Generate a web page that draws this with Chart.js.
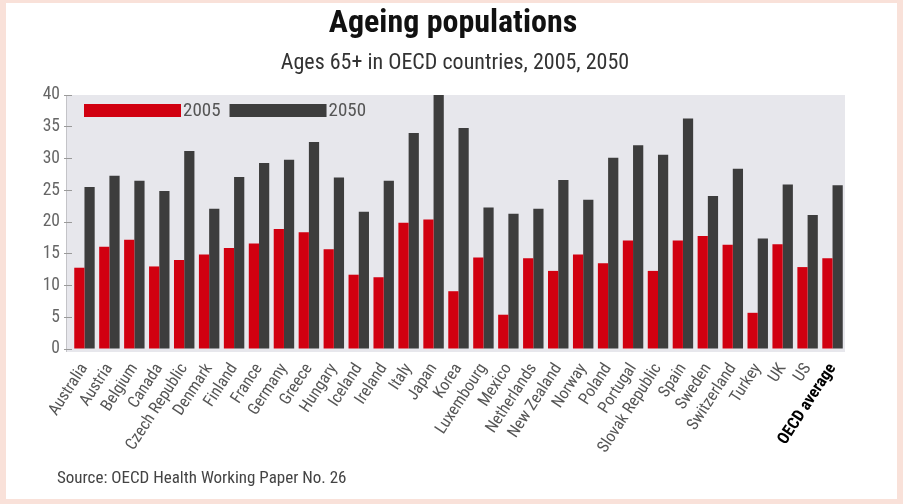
<!DOCTYPE html>
<html>
<head>
<meta charset="utf-8">
<script src="https://cdn.jsdelivr.net/npm/chart.js@4/dist/chart.umd.min.js"></script>
<style>
  html, body { margin: 0; padding: 0; background: #f9e1d9; }
  #c { display: block; }
</style>
</head>
<body>
<canvas id="c" width="903" height="504"></canvas>
<script>
// Share of population aged 65 and over, per cent
const countries = [
  'Australia', 'Austria', 'Belgium', 'Canada', 'Czech Republic', 'Denmark', 'Finland',
  'France', 'Germany', 'Greece', 'Hungary', 'Iceland', 'Ireland', 'Italy', 'Japan',
  'Korea', 'Luxembourg', 'Mexico', 'Netherlands', 'New Zealand', 'Norway', 'Poland',
  'Portugal', 'Slovak Republic', 'Spain', 'Sweden', 'Switzerland', 'Turkey', 'UK', 'US',
  'OECD average'
];
const share2005 = [
  12.8, 16.1, 17.2, 13.0, 14.0, 14.9, 15.9,
  16.6, 18.9, 18.4, 15.7, 11.7, 11.3, 19.9, 20.4,
  9.1, 14.4, 5.4, 14.3, 12.3, 14.9, 13.5,
  17.1, 12.3, 17.1, 17.8, 16.4, 5.7, 16.5, 12.9,
  14.3
];
const share2050 = [
  25.5, 27.3, 26.5, 24.9, 31.2, 22.1, 27.1,
  29.3, 29.8, 32.6, 27.0, 21.6, 26.5, 34.0, 40.0,
  34.8, 22.3, 21.3, 22.1, 26.6, 23.5, 30.1,
  32.1, 30.6, 36.3, 24.1, 28.4, 17.4, 25.9, 21.1,
  25.8
];
const seriesNames = ['2005', '2050'];
const yTicks = [0, 5, 10, 15, 20, 25, 30, 35, 40];

const NARROW = '"Roboto Condensed", "Open Sans", sans-serif';
const RED = '#d10010';
const DARK = '#3d3d3d';

// Page frame, white panel and grey plot background
const backdrop = {
  id: 'backdrop',
  beforeDraw(chart) {
    const { ctx, chartArea: a, width, height } = chart;
    ctx.save();
    ctx.fillStyle = '#f9e1d9';
    ctx.fillRect(0, 0, width, height);
    ctx.fillStyle = '#ffffff';
    ctx.fillRect(6, 3, width - 12, height - 8);
    ctx.fillStyle = '#e7e7ec';
    ctx.fillRect(a.left - 6, a.top, a.right - a.left + 6, a.bottom - a.top + 3);
    ctx.strokeStyle = '#c4c4c8';
    ctx.lineWidth = 1;
    ctx.beginPath();
    ctx.moveTo(a.left - 5.5, a.top);
    ctx.lineTo(a.left - 5.5, a.bottom + 3);
    ctx.stroke();
    ctx.restore();
  }
};

// Headings, source line and the in-plot key
const texts = {
  id: 'texts',
  afterDraw(chart) {
    const { ctx, chartArea: a } = chart;
    ctx.save();
    ctx.textAlign = 'center';
    ctx.textBaseline = 'alphabetic';
    ctx.fillStyle = '#111';
    ctx.font = 'bold 32px ' + NARROW;
    ctx.fillText('Ageing populations', 453, 32);
    ctx.fillStyle = '#333';
    ctx.font = '22px ' + NARROW;
    ctx.fillText('Ages 65+ in OECD countries, 2005, 2050', 455, 69);
    ctx.textAlign = 'left';
    ctx.fillStyle = '#444';
    ctx.font = '17px ' + NARROW;
    ctx.fillText('Source: OECD Health Working Paper No. 26', 57, 483);

    // key
    const ds = chart.data.datasets;
    let x = a.left + 12;
    const y = a.top + 9;
    ctx.font = '19px ' + NARROW;
    ctx.textBaseline = 'middle';
    ds.forEach((d) => {
      ctx.fillStyle = d.backgroundColor;
      ctx.fillRect(x, y, 97, 13);
      x += 99;
      ctx.fillStyle = '#555';
      ctx.fillText(d.label, x, y + 7);
      x += ctx.measureText(d.label).width + 9;
    });
    ctx.restore();
  }
};

new Chart(document.getElementById('c'), {
  type: 'bar',
  data: {
    labels: countries,
    datasets: [
      { label: seriesNames[0], data: share2005, backgroundColor: RED,
        categoryPercentage: 0.82, barPercentage: 1.0 },
      { label: seriesNames[1], data: share2050, backgroundColor: DARK,
        categoryPercentage: 0.82, barPercentage: 1.0 }
    ]
  },
  options: {
    responsive: false,
    devicePixelRatio: 1,
    animation: false,
    layout: { padding: { left: 32, right: 58, top: 95, bottom: 5 } },
    plugins: {
      legend: { display: false },
      title: { display: false },
      tooltip: { enabled: false }
    },
    scales: {
      x: {
        grid: { display: false },
        border: { display: false },
        afterFit(scale) { scale.height = 150; },
        ticks: {
          autoSkip: false,
          minRotation: 57,
          maxRotation: 57,
          padding: 3,
          color: (c) => c.index === countries.length - 1 ? '#000' : '#555',
          font: (c) => ({
            family: NARROW,
            size: 16.5,
            weight: c.index === countries.length - 1 ? 'bold' : 'normal'
          })
        }
      },
      y: {
        min: yTicks[0],
        max: yTicks[yTicks.length - 1],
        afterFit(scale) { scale.width = 40; },
        afterBuildTicks(scale) { scale.ticks = yTicks.map(v => ({ value: v })); },
        grid: { drawOnChartArea: false, drawTicks: true, tickLength: 8, color: '#9a9a9a' },
        border: { display: false },
        ticks: {
          padding: 4,
          color: '#666',
          font: { family: NARROW, size: 17.5 }
        }
      }
    }
  },
  plugins: [backdrop, texts]
});
</script>
</body>
</html>
